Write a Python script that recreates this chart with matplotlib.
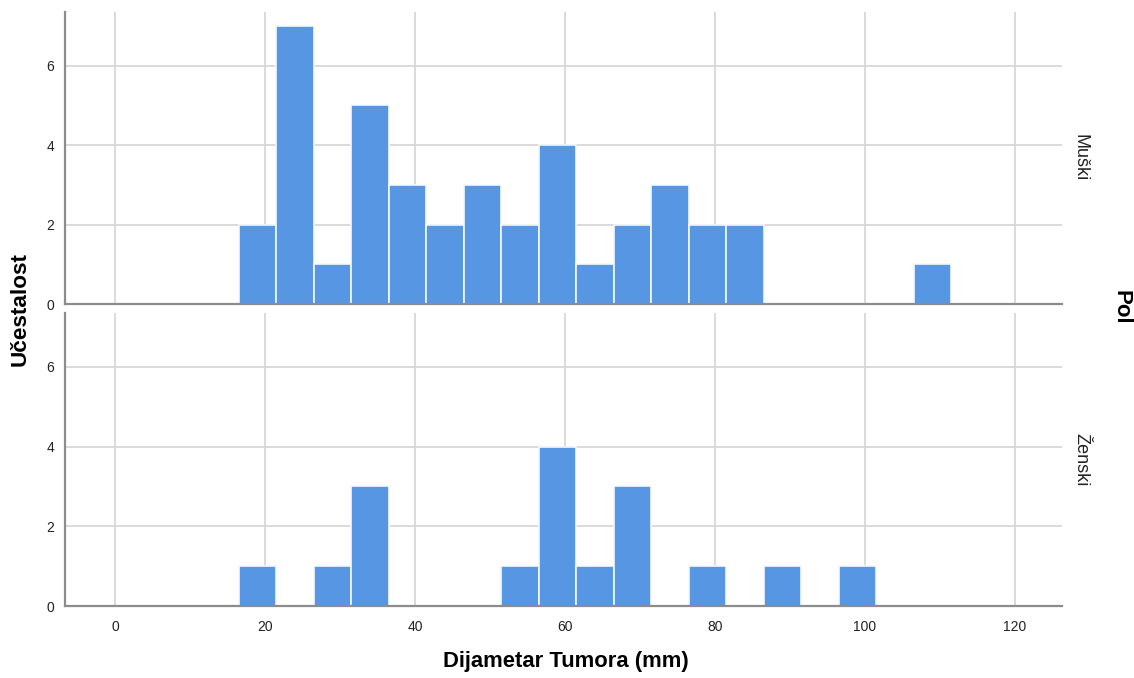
import numpy as np
import matplotlib
matplotlib.use("Agg")
import matplotlib.pyplot as plt

plt.rcParams['font.family'] = ['Liberation Sans', 'DejaVu Sans']

# Bin edges: width 5 starting at 16.5
bin_start = 16.5
bin_width = 5
muski_counts = [2, 7, 1, 5, 3, 2, 3, 2, 4, 1, 2, 3, 2, 2, 0, 0, 0, 0, 1]
zenski_counts = [1, 0, 1, 3, 0, 0, 0, 1, 4, 1, 3, 0, 1, 0, 1, 0, 1, 0, 0]
panel_labels = ["Muški", "Ženski"]
x_ticks = [0, 20, 40, 60, 80, 100, 120]
y_ticks = [0, 2, 4, 6]

bar_color = "#5796E3"
grid_color = "#D4D4D4"
spine_color = "#8C8C8C"

W, H = 1134, 678
fig = plt.figure(figsize=(W / 100, H / 100), dpi=100)

def rect(l, t, r, b):
    return [l / W, 1 - b / H, (r - l) / W, (b - t) / H]

ax_top = fig.add_axes(rect(65, 12, 1062, 304))
ax_bot = fig.add_axes(rect(65, 313, 1062, 606))

for ax, counts, lab in [(ax_top, muski_counts, panel_labels[0]),
                        (ax_bot, zenski_counts, panel_labels[1])]:
    lefts = bin_start + bin_width * np.arange(len(counts))
    ax.bar(lefts, counts, width=bin_width, align="edge", color=bar_color,
           edgecolor="#F4F8FD", linewidth=1.2, zorder=3)
    ax.set_xlim(-6.67, 126.3)
    ax.set_ylim(0, 7.35)
    ax.set_xticks(x_ticks)
    ax.set_yticks(y_ticks)
    ax.grid(True, color=grid_color, linewidth=1.2, zorder=0)
    ax.set_axisbelow(True)
    for s in ["top", "right"]:
        ax.spines[s].set_visible(False)
    for s in ["left", "bottom"]:
        ax.spines[s].set_color(spine_color)
        ax.spines[s].set_linewidth(1.6)
        ax.spines[s].set_zorder(4)
    ax.tick_params(length=0, labelsize=10, colors="#222222", pad=8)
    ax.text(1.01, 0.5, lab, transform=ax.transAxes, rotation=-90,
            ha="left", va="center", fontsize=13, color="#222222")

ax_top.tick_params(labelbottom=False)
ax_bot.tick_params(axis="x", pad=10)

fig.text(566 / W, 1 - 662 / H, "Dijametar Tumora (mm)", ha="center", va="center",
         fontsize=15.8, fontweight="bold")
fig.text(20 / W, 1 - 309 / H, "Učestalost", ha="center", va="center",
         rotation=90, fontsize=16.2, fontweight="bold")
fig.text(1121 / W, 1 - 307 / H, "Pol", ha="center", va="center",
         rotation=-90, fontsize=16, fontweight="bold")

fig.savefig("out.png", dpi=100, facecolor="white")
